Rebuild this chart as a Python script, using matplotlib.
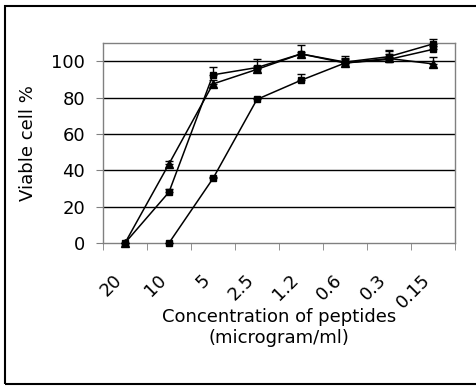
import matplotlib
matplotlib.use("Agg")
import matplotlib.pyplot as plt
import matplotlib.transforms as mtrans
from matplotlib.patches import Rectangle
import numpy as np

# concentrations (microgram/ml)
conc = ["20", "10", "5", "2.5", "1.2", "0.6", "0.3", "0.15"]

# viable cell % per peptide, nan = not measured
tri_vals = [0, 43.5, 87.5, 95.5, 104, 99, 101.5, 98.5]
tri_err = [0, 1.5, 2, 2, 5, 2, 4, 4]
dot_vals = [0, 28, 92.5, 96.5, 104, 99.5, 102.5, 109.5]
dot_err = [0, 1.5, 4.5, 4.5, 1, 3.5, 3.5, 2.5]
sq_vals = [np.nan, 0, 35.5, 79, 89.5, 99, 101, 106.5]
sq_err = [0, 0, 1, 1, 3.5, 2.5, 3, 2]

fig = plt.figure(figsize=(4.76, 3.86), dpi=100)
ax = fig.add_axes([103/476, 143/386, 352/476, 200/386])

x = np.arange(len(conc))

def series(vals, err, marker, ms):
    vals = np.array(vals, dtype=float)
    err = np.array(err, dtype=float)
    ax.errorbar(x, vals, yerr=[np.zeros_like(err), err], color="black",
                marker=marker, markersize=ms, lw=1.1, elinewidth=1,
                capsize=3, capthick=1, zorder=3, clip_on=False)

series(tri_vals, tri_err, "^", 6)
series(dot_vals, dot_err, "s", 4)
series(sq_vals, sq_err, "s", 5)

ax.set_xlim(-0.5, 7.5)
ax.set_ylim(0, 110)
ax.set_yticks(range(0, 101, 20))
ax.set_yticklabels([str(v) for v in range(0, 101, 20)], fontsize=13)
for v in range(20, 101, 20):
    ax.axhline(v, color="black", lw=1, zorder=1)

ax.set_xticks(x)
ax.set_xticklabels(conc, fontsize=13, rotation=45, ha="right",
                   rotation_mode="anchor")
ax.set_xticks(np.arange(-0.5, 8, 1), minor=True)
ax.tick_params(axis="x", which="major", length=0, pad=20)
ax.tick_params(axis="x", which="minor", length=5, color="#808080")
ax.tick_params(axis="y", length=5, color="#808080", pad=8)

# labels sit a bit left of the category centre, like the original
shift = mtrans.ScaledTranslation(-12/100, 0, fig.dpi_scale_trans)
for lab in ax.xaxis.get_majorticklabels():
    lab.set_transform(lab.get_transform() + shift)

for s in ax.spines.values():
    s.set_color("#808080")
    s.set_linewidth(1)

ax.set_ylabel("Viable cell %", fontsize=13, labelpad=10)
fig.text(279/476, 1 - 317/386, "Concentration of peptides", fontsize=13,
         ha="center", va="center")
fig.text(279/476, 1 - 338/386, "(microgram/ml)", fontsize=13,
         ha="center", va="center")

fig.add_artist(Rectangle((5/476, 2/386), 1.1, 378/386, transform=fig.transFigure,
                         fill=False, edgecolor="black", lw=1.5))

fig.savefig("out.png", dpi=100)
